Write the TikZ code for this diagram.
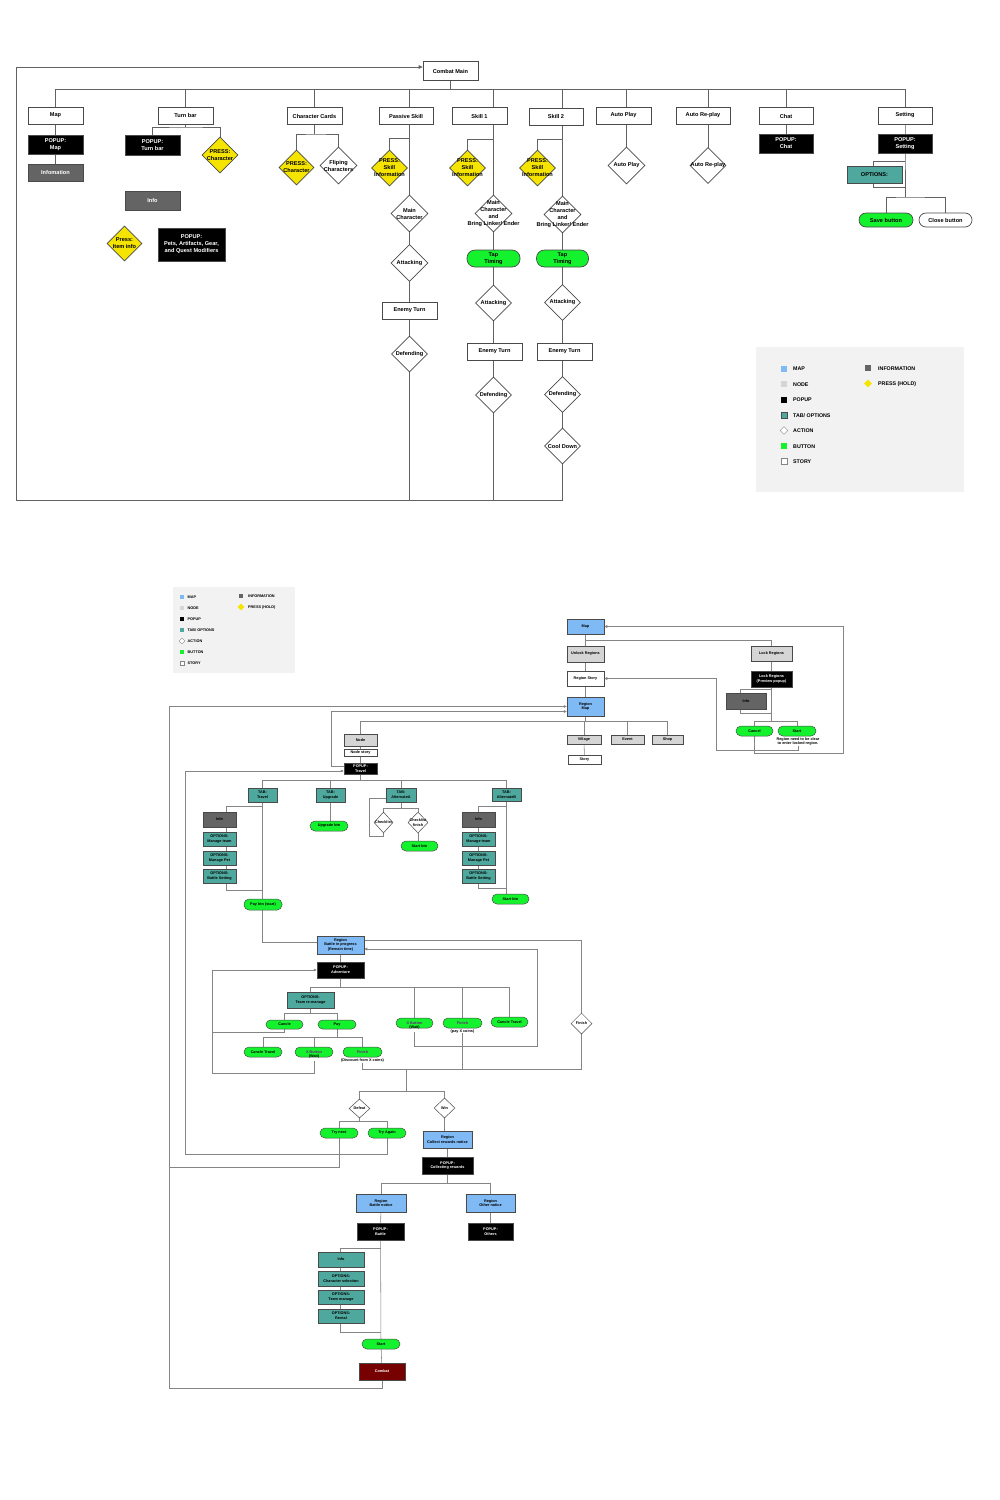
\documentclass[tikz,border=0pt]{standalone}
\usepackage{fontspec}
\setmainfont{Liberation Sans}
\usetikzlibrary{shapes.geometric,arrows.meta}
\pgfdeclarelayer{paper}
\pgfdeclarelayer{bg}
\pgfsetlayers{paper,bg,main}
\definecolor{lc}{HTML}{626262}
\definecolor{lcb}{HTML}{858585}
\definecolor{bc}{HTML}{4A4A4A}
\definecolor{mapc}{HTML}{80BAF5}
\definecolor{nodec}{HTML}{D5D5D5}
\definecolor{infoc}{HTML}{646464}
\definecolor{tabc}{HTML}{4FA89D}
\definecolor{btnc}{HTML}{14F22E}
\definecolor{pressc}{HTML}{F5E400}
\definecolor{combc}{HTML}{770000}
\definecolor{legc}{HTML}{F2F2F2}
\definecolor{purp}{HTML}{6B2378}
\newcommand\ftop{\fontsize{5.6}{7}\selectfont\bfseries}
\newcommand\fbot{\fontsize{3.8}{4.7}\selectfont\bfseries}
\newcommand\fleg{\fontsize{5.3}{6}\selectfont\bfseries}
\newcommand\flegs{\fontsize{3.8}{4.5}\selectfont\bfseries}
\tikzset{
  sz/.style 2 args={minimum width=#1pt,minimum height=#2pt},
  dsz/.style={minimum width=#1pt,minimum height=#1pt},
  bx/.style={rectangle,draw=bc,line width=.7pt,inner sep=0pt,align=center,font=\ftop,fill=white},
  pop/.style={bx,fill=black,text=white},
  inf/.style={bx,fill=infoc,text=white},
  tabbox/.style={bx,fill=tabc},
  mapn/.style={bx,fill=mapc},
  nodebox/.style={bx,fill=nodec},
  btn/.style={bx,fill=btnc,rounded corners=#1pt},
  wbtn/.style={bx,rounded corners=#1pt},
  act/.style={diamond,draw=bc,fill=white,line width=.7pt,inner sep=0pt},
  press/.style={act,fill=pressc},
  dl/.style={font=\ftop,align=center,inner sep=0pt},
  sm/.style={font=\fbot,line width=.5pt},
  dls/.style={font=\fbot,align=center,inner sep=0pt},
  ln/.style={draw=lc,line width=.8pt},
  lnb/.style={draw=lcb,line width=.55pt},
  arrtop/.style={-{Triangle[length=4pt,width=3.6pt]}},
  arrb/.style={-{Triangle[length=3pt,width=2.8pt]}},
  sq/.style={rectangle,inner sep=0pt,minimum size=#1pt},
  lt/.style={font=\fleg,anchor=west,inner sep=0pt},
  lts/.style={font=\flegs,anchor=west,inner sep=0pt},
}
\begin{document}
\begin{tikzpicture}[x=1pt,y=-1pt]
\useasboundingbox (0,0) rectangle (1000,1500);
\begin{pgfonlayer}{paper}
  \fill[white] (0,0) rectangle (1000,1500);
  \fill[legc] (756,347) rectangle (964,492);
  \fill[legc] (173,587) rectangle (295,673);
\end{pgfonlayer}

% ================= combat screen =================
\node[bx,sz={55}{19}] (cm) at (450.5,71) {Combat Main};
\node[bx,sz={55}{17}] (map) at (55.5,115.5) {Map};
\node[bx,sz={55}{17}] (turn) at (185.5,115.5) {Turn bar};
\node[bx,sz={55}{17}] (cards) at (314.5,116) {Character Cards};
\node[bx,sz={54}{17}] (pskill) at (406,116) {Passive Skill};
\node[bx,sz={55}{17}] (sk1) at (479.5,116) {Skill 1};
\node[bx,sz={54}{17}] (sk2) at (556,116.5) {Skill 2};
\node[bx,sz={55}{17}] (autop) at (623.5,115.5) {Auto Play};
\node[bx,sz={54}{17}] (autor) at (703,115.5) {Auto Re-play};
\node[bx,sz={54}{17}] (chat) at (786,116) {Chat};
\node[bx,sz={54}{17}] (setting) at (905,115.5) {Setting};

% map column
\node[pop,sz={55}{19}] (pmap) at (55.5,144.5) {POPUP:\\Map};
\node[inf,sz={55}{17}] (infom) at (55.5,172.5) {Infomation};

% turn bar column
\node[pop,sz={55}{20}] (ptb) at (152.5,145) {POPUP:\\Turn bar};
\node[press,dsz=36,label={[dl]center:{PRESS:\\Character}}] (prc) at (220,155) {};
\node[inf,sz={55}{19}] (infot) at (152.5,200.5) {Info};
\node[press,dsz=35,label={[dl]center:{Press:\\Item info}}] (pii) at (124.5,243.5) {};
\node[pop,sz={67}{33}] (ppets) at (191.5,244.5) {POPUP:\\Pets, Artifacts, Gear,\\and Quest Modifiers};

% character cards column
\node[press,dsz=35,label={[dl]center:{PRESS:\\Character}}] (prc2) at (296.5,167.5) {};
\node[act,dsz=37,label={[dl]center:{Fliping\\Characters}}] (flip) at (338.5,165.5) {};

% passive skill column
\node[press,dsz=36,label={[dl]center:{PRESS:\\Skill\\Information}}] (prp) at (389.5,168) {};
\node[act,dsz=37,label={[dl]center:{Main\\Character}}] (mcp) at (409.5,213.5) {};
\node[act,dsz=37,label={[dl]center:{Attacking}}] (attp) at (409.5,263) {};
\node[bx,sz={55}{17}] (etp) at (409.5,310.5) {Enemy Turn};
\node[act,dsz=36,label={[dl]center:{Defending}}] (defp) at (409.5,354) {};

% skill 1 column
\node[press,dsz=36,label={[dl]center:{PRESS:\\Skill\\Information}}] (prs1) at (467.5,168) {};
\node[act,dsz=37,label={[dl]center:{Main\\Character\\and\\Bring Linker/ Ender}}] (mcs1) at (493.5,213.5) {};
\node[btn=8,sz={53}{17}] (tap1) at (493.5,258.5) {Tap\\Timing};
\node[act,dsz=36,label={[dl]center:{Attacking}}] (att1) at (493.5,303) {};
\node[bx,sz={55}{17}] (et1) at (494.5,351.5) {Enemy Turn};
\node[act,dsz=36,label={[dl]center:{Defending}}] (def1) at (493.5,395) {};

% skill 2 column
\node[press,dsz=36,label={[dl]center:{PRESS:\\Skill\\Information}}] (prs2) at (537.5,168) {};
\node[act,dsz=37,label={[dl]center:{Main\\Character\\and\\Bring Linker/ Ender}}] (mcs2) at (562.5,214.5) {};
\node[btn=8,sz={52}{17}] (tap2) at (562.5,258.5) {Tap\\Timing};
\node[act,dsz=36,label={[dl]center:{Attacking}}] (att2) at (562.5,302.5) {};
\node[bx,sz={55}{17}] (et2) at (564.5,351.5) {Enemy Turn};
\node[act,dsz=36,label={[dl]center:{Defending}}] (def2) at (562.5,394.5) {};
\node[act,dsz=36,label={[dl]center:{Cool Down}}] (cool) at (562.5,446) {};

% auto play, auto re-play, chat, setting
\node[act,dsz=37,label={[dl]center:{Auto Play}}] (apd) at (626.5,165.5) {};
\node[act,dsz=36,label={[dl]center:{Auto Re-play}}] (ard) at (708,165.5) {};
\node[pop,sz={54}{19}] (pchat) at (786,143.5) {POPUP:\\Chat};
\node[pop,sz={54}{19}] (pset) at (905,143.5) {POPUP:\\Setting};
\node[tabbox,sz={55}{17}] (opt) at (874.5,174.5) {OPTIONS:};
\node[btn=7,sz={54}{14}] (save) at (886,220) {Save button};
\node[wbtn=7,sz={53}{14}] (close) at (945.5,220) {Close button};

% legend (combat)
\node[sq=6,fill=mapc] (lm1) at (784,368.5) {};
\node[lt] (lm1t) at (793,369) {MAP};
\node[sq=6,fill=nodec] (ln1) at (784,384) {};
\node[lt] (ln1t) at (793,384.5) {NODE};
\node[sq=6,fill=black] (lp1) at (784,399.5) {};
\node[lt] (lp1t) at (793,400) {POPUP};
\node[sq=6,fill=tabc,draw=bc,line width=.3pt] (lt1) at (784,415) {};
\node[lt] (lt1t) at (793,415.5) {TAB/ OPTIONS};
\node[diamond,draw=lcb,fill=white,inner sep=0pt,minimum size=8pt,line width=.4pt] (la1) at (784,430.5) {};
\node[lt] (la1t) at (793,431) {ACTION};
\node[sq=6,fill=btnc] (lb1) at (784,446) {};
\node[lt] (lb1t) at (793,446.5) {BUTTON};
\node[sq=6,fill=white,draw=lcb,line width=.4pt] (ls1) at (784,461.5) {};
\node[lt] (ls1t) at (793,462) {STORY};
\node[sq=6,fill=infoc] (li1) at (868,368) {};
\node[lt] (li1t) at (878,368.5) {INFORMATION};
\node[diamond,fill=pressc,inner sep=0pt,minimum size=8pt] (lh1) at (868,383.5) {};
\node[lt] (lh1t) at (878,384) {PRESS (HOLD)};

% ================= world map flow =================
\node[mapn,sm,sz={37}{15}] (bmap) at (585.5,626.5) {Map};
\node[nodebox,sm,sz={37}{16}] (unlock) at (585.5,654) {Unlock Regions};
\node[bx,sm,sz={37}{15}] (rstory) at (585.5,678.5) {Region Story};
\node[mapn,sm,sz={37}{19}] (rmap) at (585.5,706.5) {Region\\Map};
\node[nodebox,sm,sz={34}{9}] (village) at (584,739.5) {Village};
\node[nodebox,sm,sz={33}{9}] (event) at (627.5,739.5) {Event};
\node[nodebox,sm,sz={31}{9}] (shop) at (667.5,739.5) {Shop};
\node[bx,sm,sz={33}{9}] (story) at (584.5,759.5) {Story};
\node[nodebox,sm,sz={41}{15}] (lock) at (771.5,653.5) {Lock Regions};
\node[pop,sm,sz={41}{16}] (lockp) at (771.5,679) {Lock Regions\\(Preview popup)};
\node[inf,sm,text=black,sz={40}{16}] (infol) at (746,701) {Info};
\node[btn=5,sm,sz={37}{10}] (cancel) at (754.5,731) {Cancel};
\node[btn=5,sm,sz={38}{10}] (startl) at (797,731) {Start};
\node[dls] (startnote) at (798,741.5) {Region need to be clear\\to enter locked region.};

\node[nodebox,sm,sz={33}{12}] (node) at (360.5,740) {Node};
\node[bx,sm,sz={33}{7}] (nstory) at (360.5,752.5) {Node story};
\node[pop,sm,sz={33}{11}] (ptravel) at (360.5,768.5) {POPUP:\\Travel};

\node[tabbox,sm,sz={29}{14}] (ttravel) at (262.5,795) {TAB:\\Travel};
\node[tabbox,sm,sz={29}{14}] (tupg) at (330.5,795) {TAB:\\Upgrade};
\node[tabbox,sm,sz={30}{14}] (talta) at (401,795) {TAB:\\AlternateA};
\node[tabbox,sm,sz={29}{13}] (taltb) at (506.5,794.5) {TAB:\\AlternateB};

\node[inf,sm,text=black,sz={33}{15}] (info1) at (219.5,819.5) {Info};
\node[tabbox,sm,sz={33}{14}] (o1a) at (219.5,839) {OPTIONS:\\Manage team};
\node[tabbox,sm,sz={33}{14}] (o1b) at (219.5,858) {OPTIONS:\\Manage Pet};
\node[tabbox,sm,sz={33}{14}] (o1c) at (219.5,876) {OPTIONS:\\Battle Setting};
\node[btn=5,sm,sz={38}{11}] (paybtn) at (263,904.5) {Pay btn (start)};
\node[btn=5,sm,sz={38}{10}] (upbtn) at (329,826) {Upgrade btn};
\node[act,sm,minimum width=19pt,minimum height=21pt,label={[dls]center:Checklist}] (chk) at (383.5,822.5) {};
\node[act,sm,minimum width=20pt,minimum height=21pt,label={[dls]center:{Checklist\\finish}}] (chkf) at (418,822.5) {};
\node[btn=5,sm,sz={37}{10}] (startA) at (419.5,846) {Start btn};
\node[inf,sm,text=black,sz={33}{15}] (info2) at (478.5,819.5) {Info};
\node[tabbox,sm,sz={33}{14}] (o2a) at (478.5,839) {OPTIONS:\\Manage team};
\node[tabbox,sm,sz={33}{14}] (o2b) at (478.5,858) {OPTIONS:\\Manage Pet};
\node[tabbox,sm,sz={33}{14}] (o2c) at (478.5,876) {OPTIONS:\\Battle Setting};
\node[btn=5,sm,sz={37}{10}] (startB) at (510.5,899) {Start btn};

\node[mapn,sm,sz={47}{18}] (rbattle) at (340.5,945) {Region\\Battle in progress\\(Remain time)};
\node[pop,sm,sz={47}{16}] (padv) at (340.5,970) {POPUP:\\Adventure};
\node[tabbox,sm,sz={47}{16}] (oteam) at (310.5,1000) {OPTIONS:\\Team re-manage};
\node[btn=4.5,sm,sz={37}{9}] (cancle) at (284.5,1024.5) {Cancle};
\node[btn=4.5,sm,sz={38}{9}] (pay) at (337,1024.5) {Pay};
\node[btn=5,sm,sz={38}{10}] (ctrav2) at (263,1052) {Cancle Travel};
\node[btn=5,sm,sz={38}{10},label={[dls,yshift=-2.5pt]center:{\textcolor{purp}{X Button}\\(Wait)}}] (xbtn2) at (314,1052) {};
\node[btn=5,sm,sz={39}{10}] (fin2) at (362.5,1052) {\textcolor{purp}{Finish}};
\node[dls] (fin2note) at (362.5,1061) {(Discount from X coins)};
\node[btn=5,sm,sz={37}{10},label={[dls,yshift=-2.5pt]center:{\textcolor{purp}{X Button}\\(Wait)}}] (xbtn1) at (414.5,1023) {};
\node[btn=5,sm,sz={39}{10}] (fin1) at (462.5,1023) {\textcolor{purp}{Finish}};
\node[dls] (fin1note) at (462.5,1031.5) {(pay X coins)};
\node[btn=5,sm,sz={37}{10}] (ctrav1) at (509.5,1022) {Cancle Travel};
\node[act,sm,minimum width=21pt,minimum height=21pt,label={[dls]center:Finish}] (find) at (581.5,1023.5) {};

\node[act,sm,minimum width=21pt,minimum height=19pt,label={[dls]center:Defeat}] (defeat) at (359.5,1108.5) {};
\node[act,sm,minimum width=21pt,minimum height=20pt,label={[dls]center:Win}] (win) at (444.5,1108) {};
\node[btn=5,sm,sz={38}{10}] (trynext) at (339,1133) {Try next};
\node[btn=5,sm,sz={38}{10}] (tryagain) at (387,1133) {Try Again};
\node[mapn,sm,sz={49}{17}] (rcollect) at (447.5,1139.5) {Region\\Collect rewards notice};
\node[pop,sm,sz={51}{17}] (pcollect) at (447.5,1165.5) {POPUP:\\Collecting rewards};
\node[mapn,sm,sz={50}{18}] (rbn) at (381,1203) {Region\\Battle notice};
\node[mapn,sm,sz={49}{18}] (ron) at (490.5,1203) {Region\\Other notice};
\node[pop,sm,sz={47}{17}] (pbattle) at (380.5,1231.5) {POPUP:\\Battle};
\node[pop,sm,sz={45}{17}] (pothers) at (490.5,1231.5) {POPUP:\\Others};
\node[tabbox,sm,sz={46}{15}] (info3) at (341,1259.5) {Info};
\node[tabbox,sm,sz={46}{15}] (o3a) at (341,1278.5) {OPTIONS:\\Character selection};
\node[tabbox,sm,sz={46}{14}] (o3b) at (341,1297) {OPTIONS:\\Team manage};
\node[tabbox,sm,sz={46}{14}] (o3c) at (341,1316) {OPTIONS:\\Rental};
\node[btn=5,sm,sz={38}{10}] (startc) at (381,1344) {Start};
\node[bx,sm,fill=combc,text=white,sz={46}{17}] (combat) at (382,1371.5) {Combat};

% legend (world map)
\node[sq=4,fill=mapc] (lm2) at (182,597) {};
\node[lts] (lm2t) at (187.5,597.3) {MAP};
\node[sq=4,fill=nodec] (ln2) at (182,608) {};
\node[lts] (ln2t) at (187.5,608.3) {NODE};
\node[sq=4,fill=black] (lp2) at (182,619) {};
\node[lts] (lp2t) at (187.5,619.3) {POPUP};
\node[sq=4,fill=tabc] (lt2) at (182,630) {};
\node[lts] (lt2t) at (187.5,630.3) {TAB/ OPTIONS};
\node[diamond,draw=lcb,fill=white,inner sep=0pt,minimum size=6pt,line width=.3pt] (la2) at (182,641) {};
\node[lts] (la2t) at (187.5,641.3) {ACTION};
\node[sq=4,fill=btnc] (lb2) at (182,652) {};
\node[lts] (lb2t) at (187.5,652.3) {BUTTON};
\node[sq=4,fill=white,draw=lcb,line width=.3pt] (ls2) at (182,663) {};
\node[lts] (ls2t) at (187.5,663.3) {STORY};
\node[sq=4,fill=infoc] (li2) at (241,596) {};
\node[lts] (li2t) at (248,596.3) {INFORMATION};
\node[diamond,fill=pressc,inner sep=0pt,minimum size=7pt] (lh2) at (241,607) {};
\node[lts] (lh2t) at (248,607.3) {PRESS (HOLD)};

% ================= connectors =================
\begin{pgfonlayer}{bg}
% -- combat screen
\coordinate (bus) at (450.5,89);
\draw[ln] (cm.center) -- (bus);
\draw[ln] (map.center) |- (bus) -| (setting.center);
\draw[ln] (turn.center) |- (bus);
\draw[ln] (cards.center) |- (bus);
\draw[ln] (mcp.center) |- (bus);
\draw[ln] (mcs1.center) |- (bus);
\draw[ln] (mcs2.center) |- (bus);
\draw[ln] (apd.center) |- (bus);
\draw[ln] (ard.center) |- (bus);
\draw[ln] (pchat.center) |- (bus);
\draw[ln] (map.center) -- (pmap.center) -- (infom.center);
\coordinate (jt) at (185.5,127);
\draw[ln] (turn.center) -- (jt);
\draw[ln] (ptb.center) |- (jt) -| (prc.center);
\coordinate (jc) at (314.5,134);
\draw[ln] (cards.center) -- (jc);
\draw[ln] (prc2.center) |- (jc) -| (flip.center);
\coordinate (jpp) at (409.5,138);
\draw[ln] (prp.center) |- (jpp);
\coordinate (js1) at (493.5,139);
\draw[ln] (prs1.center) |- (js1);
\coordinate (js2) at (562.5,139);
\draw[ln] (prs2.center) |- (js2);
\coordinate (fb) at (16,500);
\coordinate (ft) at (16,67);
\draw[ln] (mcp.center) -- (attp.center) -- (etp.center) -- (defp.center) -- (defp.center |- fb);
\draw[ln] (mcs1.center) -- (tap1.center) -- (att1.center) -- (att1.center |- et1.center) -- (def1.center) -- (def1.center |- fb);
\draw[ln] (mcs2.center) -- (tap2.center) -- (att2.center) -- (att2.center |- et2.center) -- (def2.center) -- (cool.center);
\draw[ln,arrtop] (cool.center) |- (fb) -- (ft) -- (ft -| cm.west);
\coordinate (js) at (905,197);
\draw[ln] (setting.center) -- (pset.center) -- (js);
\coordinate (ob1) at (905,161);
\coordinate (ob2) at (873,187);
\draw[ln] (ob1) -| (ob2) -- (ob2 -| pset.center);
\draw[ln] (save.center) |- (js) -| (close.center);

% -- world map flow
\coordinate (jm) at (585.5,640);
\draw[lnb] (bmap.center) -- (unlock.center) -- (rstory.center) -- (rmap.center);
\draw[lnb] (jm) -| (lock.center);
\draw[lnb] (lock.center) -- (lockp.center);
\coordinate (jl) at (771.5,721);
\draw[lnb] (lockp.center) -- (jl);
\draw[lnb] (cancel.center) |- (jl) -| (startl.center);
\coordinate (ib1) at (771.5,689);
\coordinate (ib2) at (740,713);
\draw[lnb] (ib1) -| (ib2) -- (ib2 -| jl);
\coordinate (cr) at (843,753);
\draw[lnb,arrb] (cancel.center) |- (cr) |- (bmap.east);
\coordinate (sl) at (716,750);
\draw[lnb,arrb] (startnote.south) |- (sl) |- (rstory.east);
\coordinate (jr) at (585.5,721);
\draw[lnb] (rmap.center) -- (jr);
\draw[lnb] (node.center) |- (jr) -| (shop.center);
\draw[lnb] (event.center) -- (event.center |- jr);
\draw[lnb] (village.center) -- (village.center |- jr);
\draw[lnb] (village.center) -- (story.center);
\draw[lnb] (node.center) -- (nstory.center) -- (ptravel.center);

\coordinate (obl) at (169,1388.5);
\draw[lnb,arrb] (combat.center) |- (obl) |- (rmap.west);
\coordinate (tnl) at (169,1167);
\draw[lnb] (trynext.center) |- (tnl);
\coordinate (f2) at (331,711.5);
\draw[lnb,arrb] ([yshift=2.5pt]ptravel.west) -| (f2) -- (f2 -| rmap.west);
\coordinate (tal) at (185,1154);
\draw[lnb,arrb] (tryagain.center) |- (tal) |- ([yshift=-2.5pt]ptravel.west);

\coordinate (jtv) at (360.5,780);
\draw[lnb] (ptravel.center) -- (jtv);
\draw[lnb] (ttravel.center) |- (jtv) -| (taltb.center);
\draw[lnb] (tupg.center) -- (tupg.center |- jtv);
\draw[lnb] (talta.center) -- (talta.center |- jtv);
\draw[lnb] (ttravel.center) |- ([yshift=3pt]rbattle.west);
\coordinate (jt1) at (262.5,806);
\coordinate (bk1) at (226,890);
\draw[lnb] (jt1) -| (bk1) -- (bk1 -| jt1);
\draw[lnb] (tupg.center) -- (tupg.center |- upbtn.north);
\coordinate (ja) at (401,808);
\draw[lnb] (talta.center) -- (ja);
\draw[lnb] (chk.center) |- (ja) -| (chkf.center);
\coordinate (ja2) at (369,836);
\draw[lnb] ([yshift=-3pt]talta.west) -| (ja2) -| (chk.center);
\draw[lnb] (chkf.center) -- (chkf.center |- startA.north);
\draw[lnb] (taltb.center) -- (taltb.center |- startB.north);
\coordinate (jb) at (506.5,806);
\coordinate (bk2) at (478.5,888);
\draw[lnb] (jb) -| (bk2) -- (bk2 -| jb);

\draw[lnb] (rbattle.center) -- (padv.center);
\draw[lnb] ([yshift=5pt]rbattle.east) -| (find.center);
\coordinate (bb) at (581.5,1069);
\draw[lnb] (find.center) -- (bb) -| (fin2note.south);
\draw[lnb] (fin1note.south) -- (fin1note.south |- bb);
\coordinate (xr) at (537,1046);
\draw[lnb,arrb] ([yshift=-4pt]xbtn1.south) |- (xr) |- ([yshift=-4pt]rbattle.east);
\coordinate (jdw) at (406,1091);
\draw[lnb] (jdw |- bb) -- (jdw);
\draw[lnb] (defeat.center) |- (jdw) -| (win.center);

\coordinate (jad) at (340.5,987);
\draw[lnb] (padv.center) -- (jad);
\draw[lnb] (oteam.center) |- (jad) -| (ctrav1.center);
\draw[lnb] (xbtn1.center) -- (xbtn1.center |- jad);
\draw[lnb] (fin1.center) -- (fin1.center |- jad);
\coordinate (fa) at (212,1073);
\coordinate (fa2) at (212,1032);
\draw[lnb,arrb] ([yshift=-4pt]xbtn2.south) |- (fa) |- (padv.west);
\draw[lnb] (cancle.center) |- (fa2);
\coordinate (jo) at (310.5,1013);
\draw[lnb] (oteam.center) -- (jo);
\draw[lnb] (cancle.center) |- (jo) -| (pay.center);
\coordinate (jp2) at (337,1037);
\draw[lnb] (pay.center) -- (jp2);
\draw[lnb] (ctrav2.center) |- (jp2) -| (fin2.center);
\draw[lnb] (xbtn2.center) -- (xbtn2.center |- jp2);

\coordinate (jd) at (359.5,1121);
\draw[lnb] (defeat.center) -- (jd);
\draw[lnb] (trynext.center) |- (jd) -| (tryagain.center);
\draw[lnb] (win.center) -- (win.center |- rcollect.north);
\draw[lnb] (rcollect.center) -- (pcollect.center);
\coordinate (jcol) at (447.5,1183);
\draw[lnb] (pcollect.center) -- (jcol);
\draw[lnb] (rbn.center) |- (jcol) -| (ron.center);
\draw[lnb] (rbn.center) -- (pbattle.center);
\draw[lnb] (ron.center) -- (pothers.center);
\draw[lnb] (pbattle.center) -- (startc.center) -- (combat.center);
\coordinate (jb3) at (381,1248);
\coordinate (bk3) at (340,1332);
\draw[lnb] (jb3) -| (bk3) -- (bk3 -| jb3);
\end{pgfonlayer}
\end{tikzpicture}
\end{document}
